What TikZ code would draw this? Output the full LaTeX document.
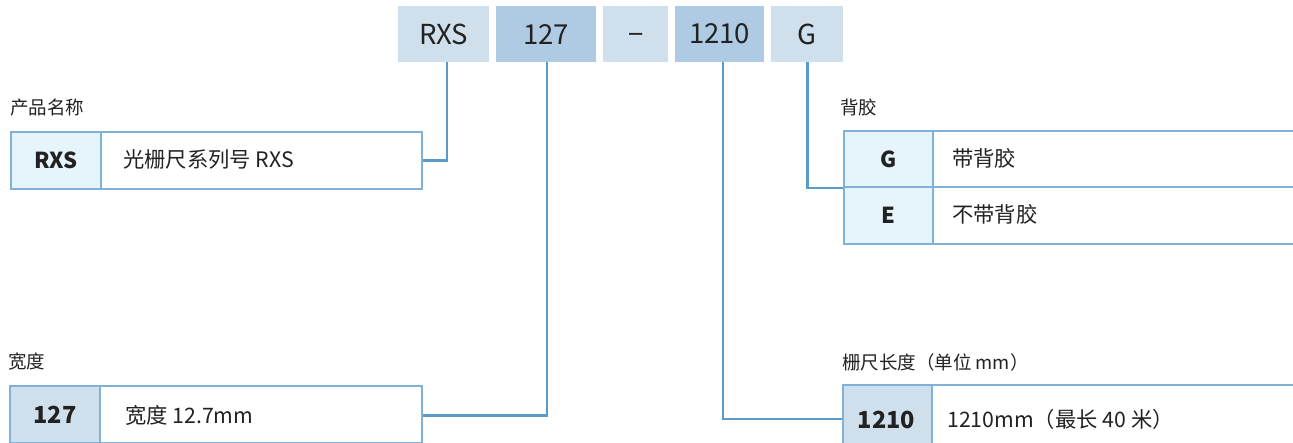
\documentclass[tikz,border=0pt]{standalone}
\usepackage{fontspec}
\setmainfont{Noto Sans CJK SC}
\definecolor{topA}{HTML}{CFE0EC}
\definecolor{topB}{HTML}{AECBE3}
\definecolor{cellA}{HTML}{E6F5FC}
\definecolor{cellB}{HTML}{CFE0EC}
\definecolor{bord}{HTML}{80B1D6}
\definecolor{conn}{HTML}{5B9BCB}
\definecolor{ink}{HTML}{222222}
\tikzset{
  topbox/.style={rectangle, inner sep=0pt, minimum height=56pt, text=ink, font=\fontsize{27.5}{32}\selectfont},
  rowbox/.style={rectangle, draw=bord, line width=2pt, fill=white, inner sep=0pt, anchor=north west},
  cellbox/.style={rectangle, draw=bord, line width=2pt, inner sep=0pt, anchor=north west, text=ink},
  rowtext/.style={anchor=west, inner sep=0pt, text=ink, font=\fontsize{21.3}{25}\selectfont},
  grouplabel/.style={anchor=west, inner sep=0pt, text=ink, font=\fontsize{18.5}{22}\selectfont},
  keyA/.style={font=\fontsize{22}{26}\selectfont\bfseries},
  keyB/.style={font=\fontsize{23.5}{27}\selectfont\bfseries},
  connector/.style={draw=conn, line width=2.5pt}
}
\begin{document}
\begin{tikzpicture}[x=1pt,y=-1pt]
\clip (0,0) rectangle (1293,443);
\fill[white] (0,0) rectangle (1293,443);
% top code boxes
\node[topbox, fill=topA, minimum width=91pt, anchor=north west] (t1) at (398,6) {RXS};
\node[topbox, fill=topB, minimum width=100pt, anchor=north west] (t2) at (496,6) {127};
\node[topbox, fill=topA, minimum width=65pt, anchor=north west] (t3) at (603,6) {};
\node[text=ink, inner sep=0pt, font=\fontsize{27.5}{32}\selectfont] (t3t) at ([yshift=-4.5pt]t3.center) {−};
\node[topbox, fill=topB, minimum width=89pt, anchor=north west] (t4) at (675,6) {1210};
\node[topbox, fill=topA, minimum width=72pt, anchor=north west] (t5) at (771,6) {G};
% product name
\node[grouplabel] (lprod) at (10,108) {产品名称};
\node[rowbox, minimum width=411pt, minimum height=57pt] (prod) at (10,131) {};
\node[cellbox, fill=cellA, minimum width=90pt, minimum height=57pt, keyA] (prodk) at (10,131) {RXS};
\node[rowtext] (prodv) at (123,159.5) {光栅尺系列号 RXS};
% backing
\node[grouplabel] (lback) at (840,107) {背胶};
\node[rowbox, minimum width=450pt, minimum height=56pt] (grow) at (843,130) {};
\node[cellbox, fill=cellA, minimum width=89pt, minimum height=56pt, keyA] (gk) at (843,130) {G};
\node[rowtext] (gv) at (952,158) {带背胶};
\node[rowbox, minimum width=450pt, minimum height=57pt] (erow) at (843,186) {};
\node[cellbox, fill=cellA, minimum width=89pt, minimum height=57pt, keyA] (ek) at (843,186) {E};
\node[rowtext] (ev) at (952,214.5) {不带背胶};
% width
\node[grouplabel] (lwid) at (8,362) {宽度};
\node[rowbox, minimum width=412pt, minimum height=57pt] (wid) at (9,385) {};
\node[cellbox, fill=cellB, minimum width=90pt, minimum height=57pt, keyB] (widk) at (9,385) {127};
\node[rowtext] (widv) at (125,415.5) {宽度 12.7mm};
% length
\node[grouplabel] (llen) at (842,362) {栅尺长度（单位 mm）};
\node[rowbox, minimum width=451pt, minimum height=72pt] (len) at (842,384) {};
\node[cellbox, fill=cellB, minimum width=89pt, minimum height=72pt, keyB] (lenk) at (842,384) {};
\node[keyB, inner sep=0pt, text=ink] (lenkt) at (886.5,420) {1210};
\node[rowtext] (lenv) at (947,419) {1210mm（最长 40 米）};
% connectors
\draw[connector] ([xshift=3.5pt]t1.south) |- (prod.east);
\draw[connector] ([xshift=1pt]t2.south) |- ([yshift=-1pt]wid.east);
\draw[connector] ([xshift=3.5pt]t4.south) |- ([yshift=2pt]len.west);
\draw[connector] ([xshift=0.5pt]t5.south) |- (grow.south west);
\end{tikzpicture}
\end{document}
